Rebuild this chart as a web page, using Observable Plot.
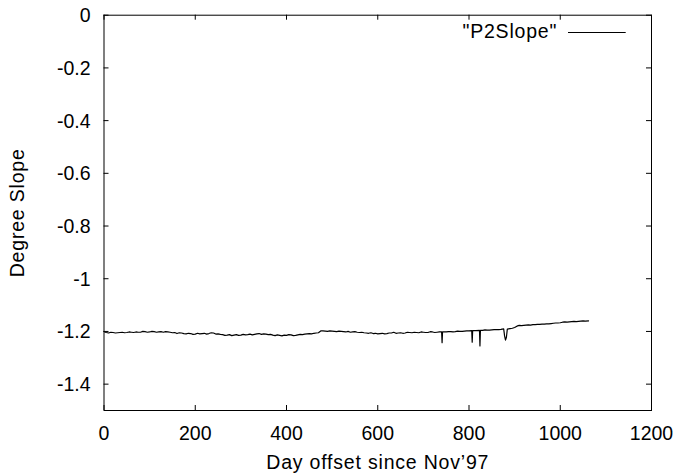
<!DOCTYPE html>
<html><head><meta charset="utf-8">
<script src="https://cdn.jsdelivr.net/npm/d3@7"></script>
<script src="https://cdn.jsdelivr.net/npm/@observablehq/plot@0.6"></script>
<style>body{margin:0;background:#fff}</style>
</head><body><div id="chart"></div>
<script>
const xTicks = [0, 200, 400, 600, 800, 1000, 1200];
const yTicks = [0, -0.2, -0.4, -0.6, -0.8, -1, -1.2, -1.4];
const xLabel = "Day offset since Nov’97";
const yLabel = "Degree Slope";
const seriesName = "\"P2Slope\"";
// [day, slope]
const p2slope = [
  [0,-1.200],[3,-1.203],[5,-1.204],[10,-1.206],[15,-1.203],[20,-1.204],[25,-1.206],[30,-1.205],[35,-1.204],[40,-1.203],[45,-1.205],[50,-1.204],
  [55,-1.202],[60,-1.203],[65,-1.204],[70,-1.202],[75,-1.203],[80,-1.203],[85,-1.200],[90,-1.201],[95,-1.203],[100,-1.202],[105,-1.200],[110,-1.201],[115,-1.203],[120,-1.202],
  [125,-1.201],[130,-1.203],[135,-1.201],[140,-1.202],[145,-1.203],[150,-1.205],[155,-1.204],[160,-1.208],[165,-1.205],[170,-1.206],[175,-1.208],[180,-1.209],[185,-1.207],[190,-1.208],
  [195,-1.211],[200,-1.210],[205,-1.207],[210,-1.209],[215,-1.208],[220,-1.207],[225,-1.210],[230,-1.208],[235,-1.205],[240,-1.206],[245,-1.210],[250,-1.209],[255,-1.211],[260,-1.212],
  [265,-1.215],[270,-1.214],[275,-1.212],[280,-1.216],[285,-1.214],[290,-1.212],[295,-1.215],[300,-1.214],[305,-1.211],[310,-1.213],[315,-1.212],[320,-1.210],[325,-1.213],[330,-1.211],
  [335,-1.209],[340,-1.208],[345,-1.211],[350,-1.209],[355,-1.210],[360,-1.212],[365,-1.211],[370,-1.214],[375,-1.216],[380,-1.213],[385,-1.215],[390,-1.217],[395,-1.214],[400,-1.215],
  [405,-1.212],[410,-1.213],[415,-1.216],[420,-1.215],[425,-1.213],[430,-1.211],[435,-1.212],[440,-1.210],[445,-1.209],[450,-1.208],[455,-1.209],[460,-1.207],[465,-1.206],[470,-1.205],
  [475,-1.198],[480,-1.198],[485,-1.199],[490,-1.200],[495,-1.198],[500,-1.199],[505,-1.200],[510,-1.201],[515,-1.199],[520,-1.200],[525,-1.201],[530,-1.202],
  [535,-1.200],[540,-1.203],[545,-1.202],[550,-1.201],[555,-1.203],[560,-1.204],[565,-1.203],[570,-1.205],[575,-1.206],[580,-1.207],[585,-1.205],[590,-1.208],[595,-1.207],[600,-1.209],
  [605,-1.208],[610,-1.207],[615,-1.209],[620,-1.208],[625,-1.206],[630,-1.206],[635,-1.203],[640,-1.207],[645,-1.206],[650,-1.205],[655,-1.207],[660,-1.206],[665,-1.203],[670,-1.204],
  [675,-1.205],[680,-1.203],[685,-1.204],[690,-1.205],[695,-1.202],[700,-1.203],[705,-1.204],[710,-1.204],[715,-1.201],[720,-1.202],[725,-1.204],[730,-1.203],[735,-1.202],[740,-1.202],
  [741,-1.243],[742,-1.202],[750,-1.202],[755,-1.201],[760,-1.201],[765,-1.202],[770,-1.201],[775,-1.199],[780,-1.200],[785,-1.200],[790,-1.199],
  [795,-1.198],[800,-1.198],[806,-1.197],[807,-1.241],[808,-1.197],[815,-1.197],[823,-1.196],[824,-1.255],
  [825,-1.196],[830,-1.196],[835,-1.194],[840,-1.195],[845,-1.195],[850,-1.194],[855,-1.193],[860,-1.193],[865,-1.193],[870,-1.192],[876,-1.190],
  [878,-1.217],[880,-1.233],[882,-1.222],[884,-1.191],[890,-1.189],[895,-1.188],[900,-1.185],[905,-1.180],
  [910,-1.177],[915,-1.178],[920,-1.177],[925,-1.176],[930,-1.175],[935,-1.176],[940,-1.174],[945,-1.174],[950,-1.173],[955,-1.173],[960,-1.172],[965,-1.172],[970,-1.171],
  [975,-1.171],[980,-1.170],[985,-1.169],[990,-1.168],[995,-1.168],[1000,-1.167],[1005,-1.165],[1010,-1.164],[1015,-1.165],[1020,-1.164],[1025,-1.163],[1030,-1.162],
  [1035,-1.163],[1040,-1.162],[1045,-1.161],[1050,-1.160],[1055,-1.161],[1062,-1.160]
];

const W = 675, H = 473, mL = 103.5, mR = 24, mT = 14.7, mB = 63;
const fw = W - mL - mR, fh = H - mT - mB;
const font = "'Liberation Sans', Arial, Helvetica, sans-serif";
const fmtY = d => String(+d.toFixed(1));

const chart = Plot.plot({
  width: W, height: H,
  marginLeft: mL, marginRight: mR, marginTop: mT, marginBottom: mB,
  style: {fontFamily: font, fontSize: "19.5px", background: "#fff", color: "#000", overflow: "visible"},
  x: {domain: [0, 1200], axis: null},
  y: {domain: [-1.5, 0], axis: null},
  marks: [
    Plot.line(p2slope, {x: d => d[0], y: d => d[1], stroke: "#000", strokeWidth: 1.2}),
    Plot.ruleX(xTicks, {x: d => d, insetTop: fh - 5, stroke: "#000"}),
    Plot.ruleX(xTicks, {x: d => d, insetBottom: fh - 5, stroke: "#000"}),
    Plot.ruleY(yTicks, {y: d => d, insetRight: fw - 5, stroke: "#000"}),
    Plot.ruleY(yTicks, {y: d => d, insetLeft: fw - 5, stroke: "#000"}),
    Plot.frame({stroke: "#000"}),
    Plot.text(xTicks, {x: d => d, frameAnchor: "bottom", dy: 23, text: d => String(d), textAnchor: "middle", lineAnchor: "middle", fill: "#000", fontSize: 19.5}),
    Plot.text(yTicks, {y: d => d, frameAnchor: "left", dx: -13.5, dy: 0.7, text: fmtY, textAnchor: "end", lineAnchor: "middle", fill: "#000", fontSize: 19.5}),
    Plot.text([xLabel], {frameAnchor: "bottom", dy: 52, text: d => d, textAnchor: "middle", lineAnchor: "middle", fill: "#000", fontSize: 19.5}),
    Plot.text([yLabel], {frameAnchor: "left", dx: -86, rotate: -90, text: d => d, textAnchor: "middle", lineAnchor: "middle", fill: "#000", fontSize: 19.5}),
    Plot.text([seriesName], {frameAnchor: "top-right", dx: -94.3, dy: 16.4, text: d => d, textAnchor: "end", lineAnchor: "middle", fill: "#000", fontSize: 19.5}),
    Plot.ruleY([0], {y: d => d, dy: 17.3, insetLeft: 464.5, insetRight: 25.3, stroke: "#000", strokeWidth: 1.2})
  ]
});
chart.querySelectorAll("text").forEach(t => {
  if ([xLabel, yLabel, seriesName].includes(t.textContent)) t.style.letterSpacing = "0.8px";
});
document.getElementById("chart").appendChild(chart);
</script>
</body></html>
